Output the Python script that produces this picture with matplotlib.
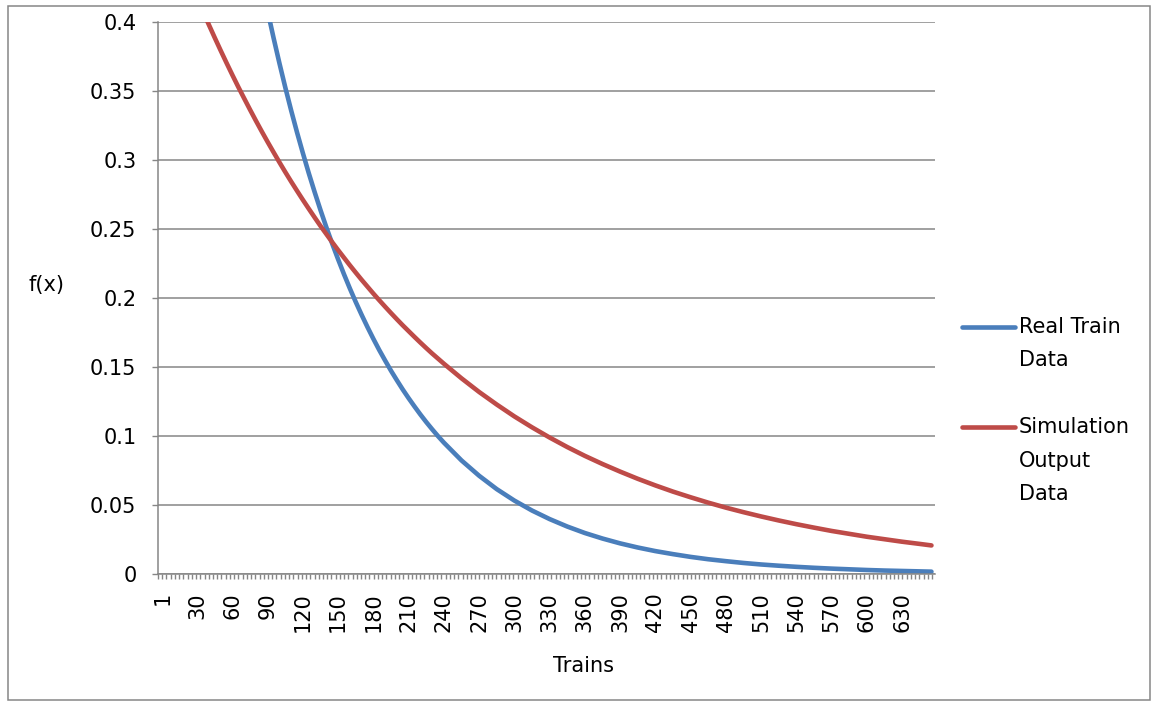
import matplotlib.pyplot as plt
from matplotlib.lines import Line2D
from matplotlib.patches import Rectangle

plt.rcParams['font.family'] = ['DejaVu Sans']

# values
trains = [1, 15] + list(range(30, 241, 5)) + list(range(255, 646, 15)) + [655]
real_train = [0.9700, 0.8450,
              0.7300, 0.6954, 0.6625, 0.6311, 0.6012, 0.5728, 0.5457, 0.5198,
              0.4952, 0.4718, 0.4495, 0.4282, 0.4080, 0.3887, 0.3703, 0.3527,
              0.3360, 0.3201, 0.3050, 0.2905, 0.2768, 0.2637, 0.2512, 0.2393,
              0.2280, 0.2172, 0.2069, 0.1971, 0.1878, 0.1789, 0.1704, 0.1623,
              0.1547, 0.1473, 0.1404, 0.1337, 0.1274, 0.1214, 0.1156, 0.1101,
              0.1049, 0.0999, 0.0952,
              0.0823, 0.0712, 0.0615, 0.0532, 0.0460, 0.0398, 0.0344, 0.0297,
              0.0257, 0.0222, 0.0192, 0.0166, 0.0144, 0.0124, 0.0107, 0.0093,
              0.0080, 0.0069, 0.0060, 0.0052, 0.0045, 0.0039, 0.0034, 0.0029,
              0.0025, 0.0022, 0.0019, 0.0017]
simulation = [0.4800, 0.4488,
              0.4176, 0.4077, 0.3980, 0.3886, 0.3794, 0.3704, 0.3616, 0.3530,
              0.3447, 0.3365, 0.3285, 0.3207, 0.3131, 0.3057, 0.2984, 0.2913,
              0.2844, 0.2777, 0.2711, 0.2647, 0.2584, 0.2522, 0.2463, 0.2404,
              0.2347, 0.2292, 0.2237, 0.2184, 0.2132, 0.2082, 0.2032, 0.1984,
              0.1937, 0.1891, 0.1846, 0.1802, 0.1760, 0.1718, 0.1677, 0.1637,
              0.1598, 0.1561, 0.1524,
              0.1418, 0.1319, 0.1228, 0.1142, 0.1063, 0.0989, 0.0920, 0.0856,
              0.0797, 0.0742, 0.0690, 0.0642, 0.0597, 0.0556, 0.0517, 0.0481,
              0.0448, 0.0417, 0.0388, 0.0361, 0.0336, 0.0312, 0.0291, 0.0270,
              0.0252, 0.0234, 0.0218, 0.0207]
x_labels = ['1'] + [str(v) for v in range(30, 631, 30)]
x_label_pos = [1] + list(range(30, 631, 30))
y_ticks = [0, 0.05, 0.1, 0.15, 0.2, 0.25, 0.3, 0.35, 0.4]
y_labels = ['0', '0.05', '0.1', '0.15', '0.2', '0.25', '0.3', '0.35', '0.4']

grey = '#868686'
blue = '#4A7EBB'
red = '#BE4B48'
fs = 15

fig = plt.figure(figsize=(11.55, 7.04), dpi=100)
ax = fig.add_axes([158 / 1155, 1 - 574 / 704, 777 / 1155, 552 / 704])

ax.plot(trains, real_train, color=blue, lw=3.3, solid_capstyle='round')
ax.plot(trains, simulation, color=red, lw=3.3, solid_capstyle='round')

ax.set_xlim(-3.3, 658)
ax.set_ylim(0, 0.4)

ax.set_yticks(y_ticks)
ax.set_yticklabels(y_labels, fontsize=fs)
ax.set_xticks(x_label_pos)
ax.set_xticklabels(x_labels, rotation=90, fontsize=fs)
ax.set_xticks([-3.3 + 3.6 * i for i in range(184)], minor=True)

ax.tick_params(axis='y', direction='out', length=4.5, width=1, color=grey, pad=11)
ax.tick_params(axis='x', which='major', length=0, pad=13)
ax.tick_params(axis='x', which='minor', direction='out', length=3.5, width=1, color=grey)

ax.grid(axis='y', color=grey, lw=1.1)
ax.set_axisbelow(True)
for s in ['top', 'right']:
    ax.spines[s].set_visible(False)
for s in ['left', 'bottom']:
    ax.spines[s].set_color(grey)
    ax.spines[s].set_linewidth(1.1)

ax.set_ylabel('f(x)', fontsize=fs, rotation=0, ha='center', va='center')
ax.yaxis.set_label_coords(-0.144, 0.524)
ax.set_xlabel('Trains', fontsize=fs)
ax.xaxis.set_label_coords(0.547, -0.149)

# legend on the right
W, H = 1155, 704
fig.add_artist(Line2D([962 / W, 1015 / W], [1 - 327 / H] * 2, color=blue, lw=3.3,
                      solid_capstyle='round'))
fig.add_artist(Line2D([962 / W, 1015 / W], [1 - 427 / H] * 2, color=red, lw=3.3,
                      solid_capstyle='round'))
for txt, y in [('Real Train', 327), ('Data', 360), ('Simulation', 427),
               ('Output', 461), ('Data', 494)]:
    fig.text(1019 / W, 1 - y / H, txt, fontsize=fs, va='center', ha='left')

# outer chart border
fig.add_artist(Rectangle((8 / W, 1 - 700 / H), 1142 / W, 694 / H,
                         fill=False, edgecolor=grey, lw=1.1))

fig.savefig('out.png', dpi=100)
